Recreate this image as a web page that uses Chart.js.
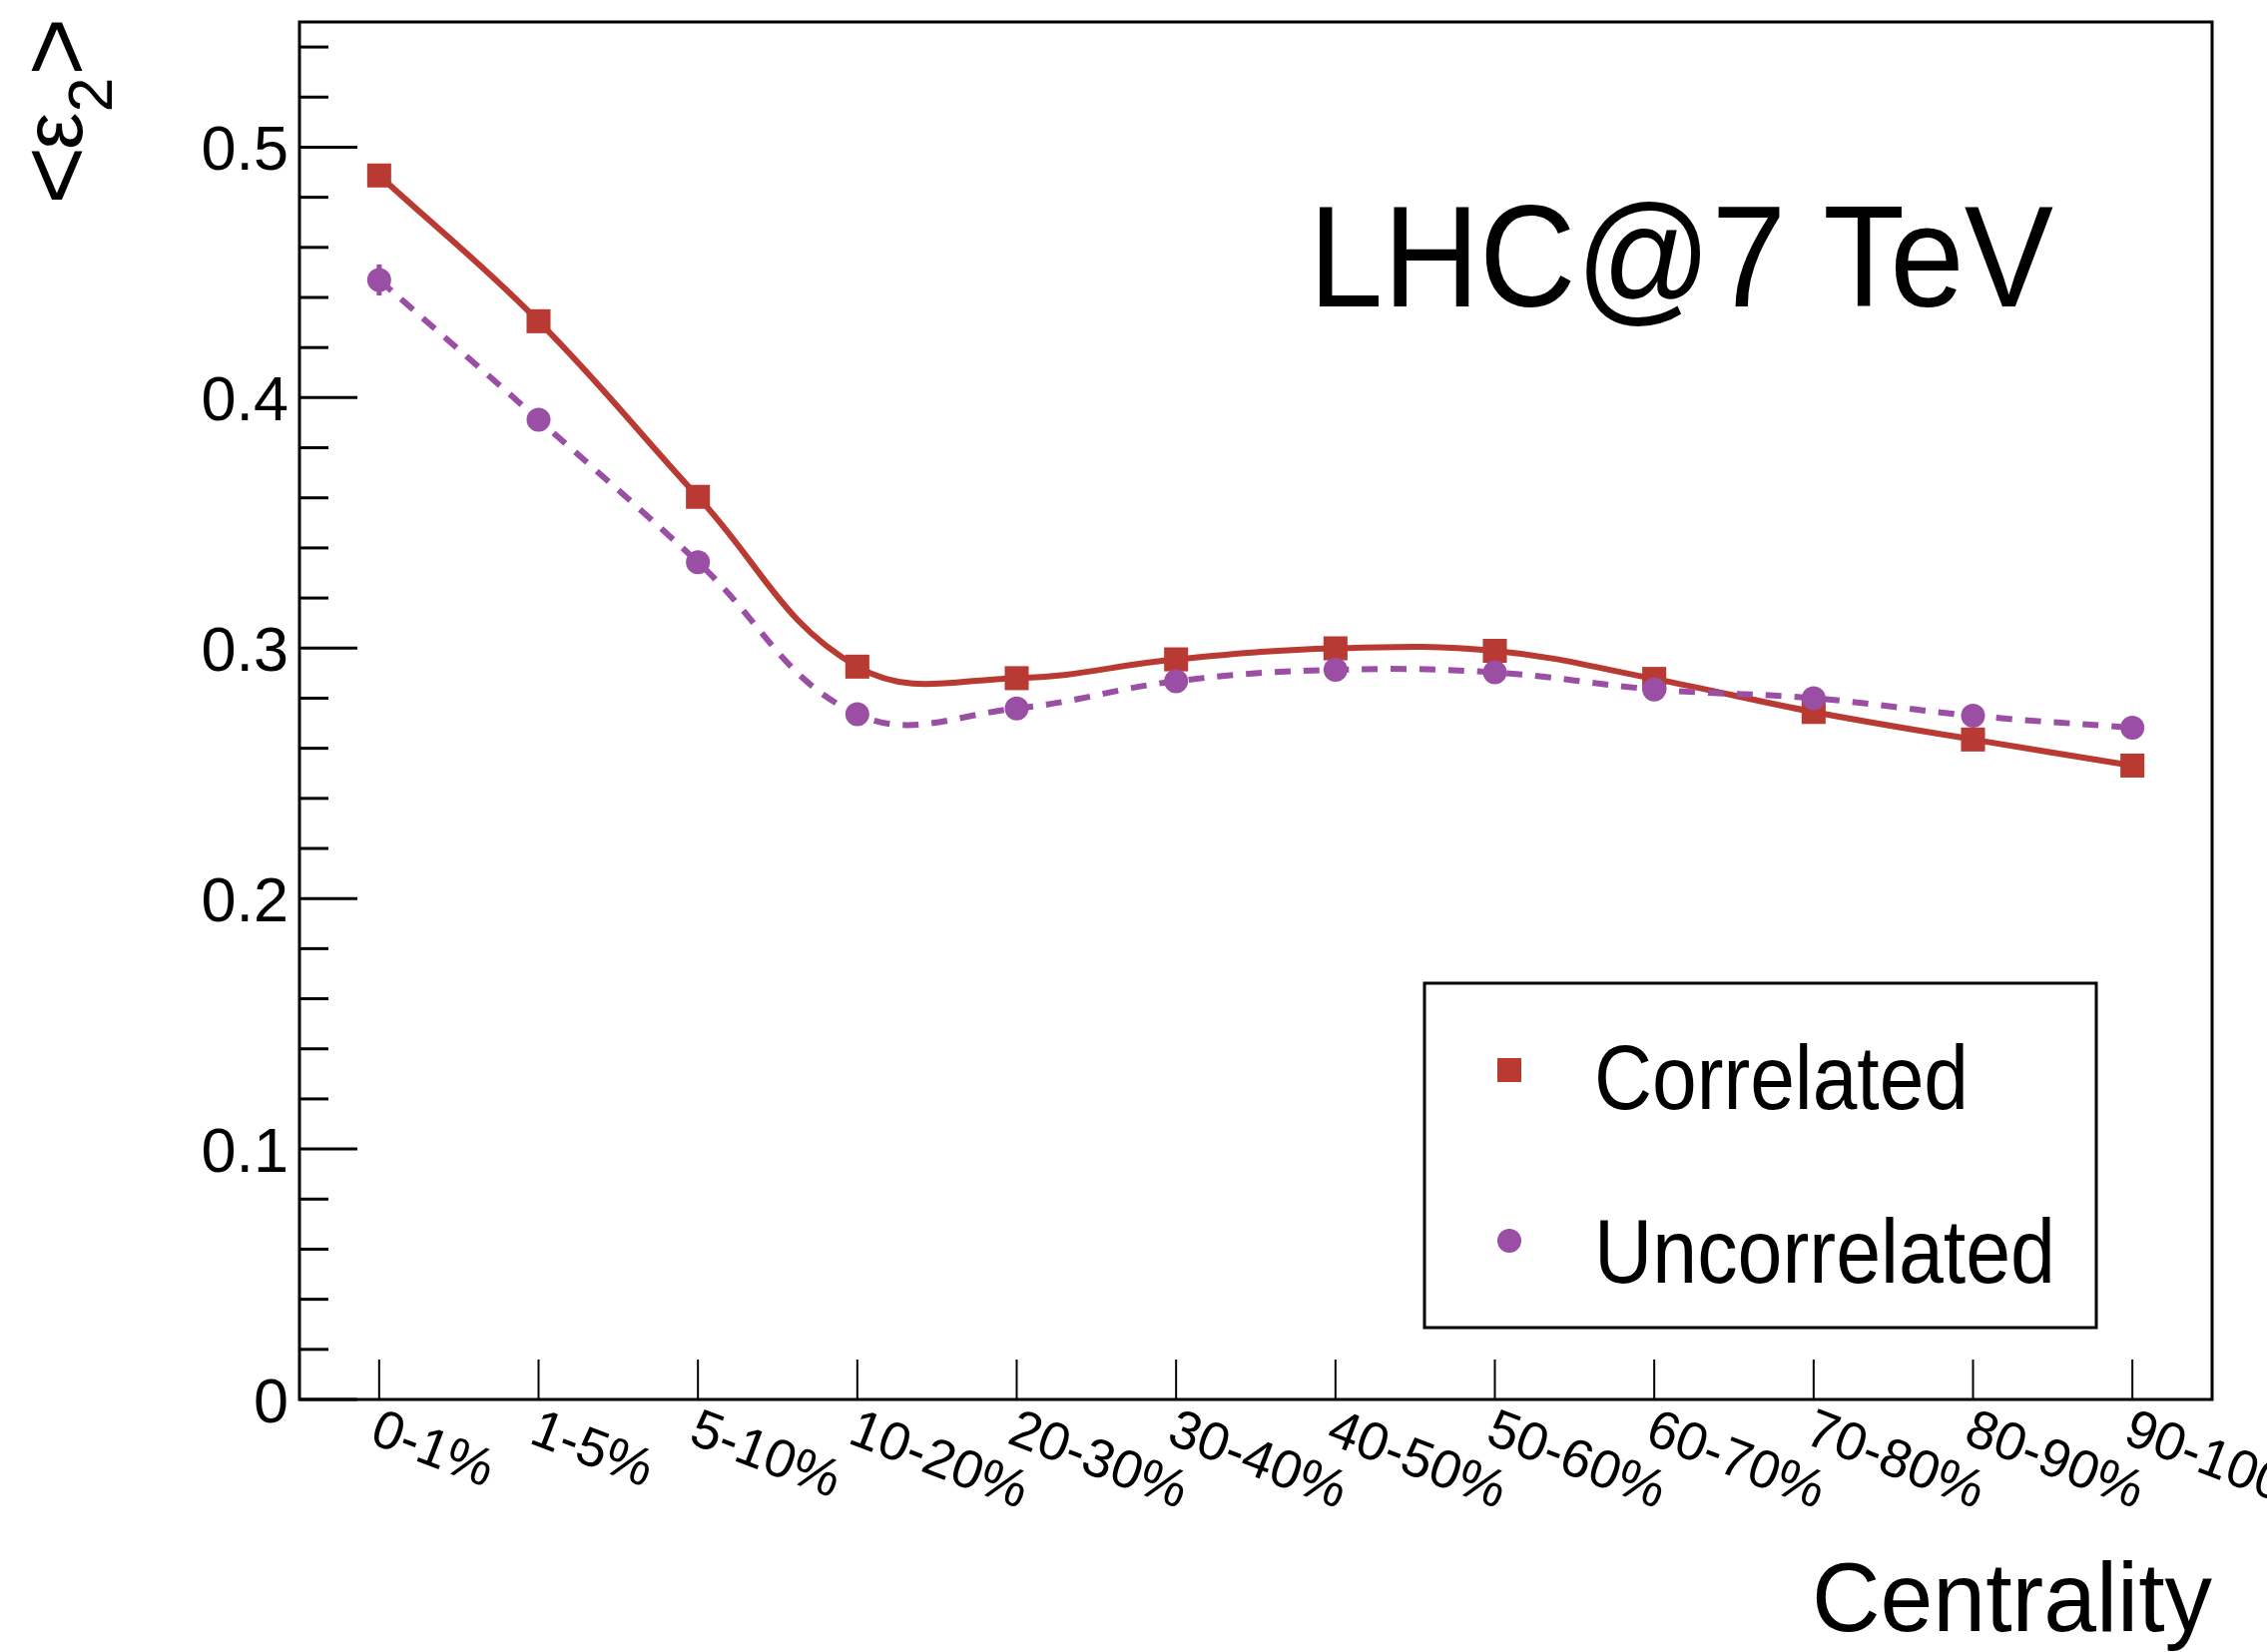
<!DOCTYPE html>
<html>
<head>
<meta charset="utf-8">
<script src="https://cdn.jsdelivr.net/npm/chart.js@4.4.1/dist/chart.umd.min.js"></script>
<style>
  html, body { margin: 0; padding: 0; background: #fff; }
  #wrap { width: 2271px; height: 1655px; }
</style>
</head>
<body>
<div id="wrap"><canvas id="chart" width="2271" height="1655"></canvas></div>
<script>
// centrality classes
const categories = ["0-1%", "1-5%", "5-10%", "10-20%", "20-30%", "30-40%", "40-50%", "50-60%", "60-70%", "70-80%", "80-90%", "90-100%"]

// <eps_2> values
const correlated = [0.4887, 0.4305, 0.3604, 0.2926, 0.2880, 0.2955, 0.2999, 0.2989, 0.2877, 0.2745, 0.2635, 0.2531]
const uncorrelated = [0.4470, 0.3912, 0.3343, 0.2736, 0.2759, 0.2868, 0.2913, 0.2903, 0.2835, 0.2800, 0.2730, 0.2682]
const uncorrelatedErr = [0.0062, 0.004, 0.004, 0.003, 0.003, 0.003, 0.003, 0.003, 0.004, 0.004, 0.004, 0.004]

const seriesNames = ["Correlated", "Uncorrelated"]
const yTickValues = [0, 0.1, 0.2, 0.3, 0.4, 0.5]
const yTickLabels = ["0", "0.1", "0.2", "0.3", "0.4", "0.5"]
const yMinorStep = 0.02
const yMax = 0.55

const FONT = '"Liberation Sans", Arial, Helvetica, sans-serif'
const RED = "#b83a33"
const PURPLE = "#9a4fa5"

// draws one glyph rotated by -90deg with its ink centred on (cx, cy)
function drawRotGlyph(ctx, ch, size, cx, cy) {
  ctx.save()
  ctx.font = size + "px " + FONT
  ctx.textAlign = "left"
  ctx.textBaseline = "alphabetic"
  const m = ctx.measureText(ch)
  ctx.translate(cx, cy)
  ctx.rotate(-Math.PI / 2)
  const x0 = (m.actualBoundingBoxLeft - m.actualBoundingBoxRight) / 2
  const y0 = (m.actualBoundingBoxAscent - m.actualBoundingBoxDescent) / 2
  ctx.fillText(ch, x0, y0)
  ctx.restore()
}

const rootStyle = {
  id: "rootStyle",
  afterDatasetsDraw(chart) {
    const { ctx, chartArea: a, scales: { x, y } } = chart
    ctx.save()

    // error bars on the uncorrelated points
    ctx.strokeStyle = PURPLE
    ctx.lineWidth = 5
    uncorrelated.forEach((v, i) => {
      const px = x.getPixelForValue(i)
      ctx.beginPath()
      ctx.moveTo(px, y.getPixelForValue(v - uncorrelatedErr[i]))
      ctx.lineTo(px, y.getPixelForValue(v + uncorrelatedErr[i]))
      ctx.stroke()
    })

    // frame
    ctx.strokeStyle = "#000"
    ctx.lineWidth = 3
    ctx.strokeRect(a.left, a.top, a.right - a.left, a.bottom - a.top)

    // y ticks (major + minor, pointing inwards)
    const nMinor = Math.round(yMax / yMinorStep)
    for (let k = 0; k <= nMinor; k++) {
      const py = y.getPixelForValue(k * yMinorStep)
      if (py < a.top + 2) continue
      const len = k % 5 === 0 ? 58 : 29
      ctx.beginPath()
      ctx.moveTo(a.left, py)
      ctx.lineTo(a.left + len, py)
      ctx.stroke()
    }

    // y tick labels
    ctx.fillStyle = "#000"
    ctx.font = "63px " + FONT
    ctx.textAlign = "right"
    ctx.textBaseline = "alphabetic"
    yTickValues.forEach((v, i) => {
      ctx.fillText(yTickLabels[i], a.left - 11, y.getPixelForValue(v) + 23)
    })

    // x ticks
    ctx.lineWidth = 2
    categories.forEach((c, i) => {
      const px = x.getPixelForValue(i)
      ctx.beginPath()
      ctx.moveTo(px, a.bottom)
      ctx.lineTo(px, a.bottom - 40)
      ctx.stroke()
    })

    // x tick labels, rotated clockwise
    ctx.font = "54px " + FONT
    ctx.textAlign = "left"
    ctx.textBaseline = "top"
    categories.forEach((c, i) => {
      const px = x.getPixelForValue(i)
      ctx.save()
      ctx.translate(px + 4, a.bottom + 4)
      ctx.rotate(21 * Math.PI / 180)
      ctx.fillText(c, 0, 0)
      ctx.restore()
    })

    // axis titles
    ctx.font = "98px " + FONT
    ctx.textAlign = "right"
    ctx.textBaseline = "alphabetic"
    ctx.fillText("Centrality", a.right, 1634, 401)

    drawRotGlyph(ctx, "<", 100, 57, 176)
    drawRotGlyph(ctx, "\u03b5", 84, 60, 131)
    drawRotGlyph(ctx, "2", 63, 90, 95)
    drawRotGlyph(ctx, ">", 100, 57, 47)

    // header text
    ctx.font = "145px " + FONT
    ctx.textAlign = "left"
    ctx.fillText("LHC@7 TeV", 1311, 307, 746)

    // legend
    const lx = 1427, ly = 985, lw = 673, lh = 345
    ctx.fillStyle = "#fff"
    ctx.fillRect(lx, ly, lw, lh)
    ctx.strokeStyle = "#000"
    ctx.lineWidth = 3
    ctx.strokeRect(lx, ly, lw, lh)

    ctx.fillStyle = RED
    ctx.fillRect(1512 - 12, 1072 - 12, 24, 24)
    ctx.fillStyle = PURPLE
    ctx.beginPath()
    ctx.arc(1512, 1243, 12, 0, Math.PI * 2)
    ctx.fill()

    ctx.fillStyle = "#000"
    ctx.font = "90px " + FONT
    ctx.fillText(seriesNames[0], 1597, 1111, 375)
    ctx.fillText(seriesNames[1], 1597, 1285, 462)

    ctx.restore()
  }
}

new Chart(document.getElementById("chart"), {
  type: "line",
  data: {
    labels: categories,
    datasets: [
      {
        label: seriesNames[0],
        data: correlated,
        borderColor: RED,
        backgroundColor: RED,
        borderWidth: 6,
        tension: 0.4,
        pointStyle: "rect",
        pointRadius: 17,
        pointBorderWidth: 0,
        pointBackgroundColor: RED,
        order: 1,
      },
      {
        label: seriesNames[1],
        data: uncorrelated,
        borderColor: PURPLE,
        backgroundColor: PURPLE,
        borderWidth: 6,
        borderDash: [16, 13],
        tension: 0.4,
        pointStyle: "circle",
        pointRadius: 12,
        pointBorderWidth: 0,
        pointBackgroundColor: PURPLE,
        order: 0,
      },
    ],
  },
  options: {
    responsive: false,
    devicePixelRatio: 1,
    animation: false,
    events: [],
    layout: { padding: { left: 300, top: 22, right: 55, bottom: 253 } },
    plugins: { legend: { display: false }, tooltip: { enabled: false } },
    scales: {
      x: { type: "category", offset: true, display: false },
      y: { type: "linear", min: 0, max: yMax, display: false },
    },
  },
  plugins: [rootStyle],
})
</script>
</body>
</html>
